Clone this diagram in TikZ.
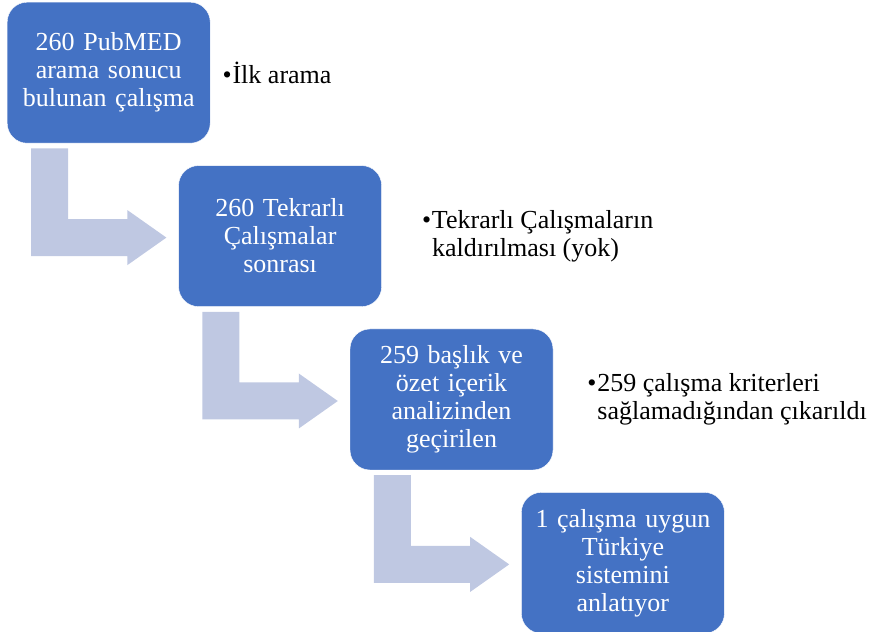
\documentclass[tikz,border=0pt]{standalone}
\usepackage{fontspec}
\setmainfont{Liberation Serif}
\usepackage{tikz}
\usetikzlibrary{calc,positioning}
\definecolor{kutumavi}{RGB}{68,114,196}
\definecolor{okgri}{RGB}{191,200,226}
\tikzset{
    %Define style for boxes
    kutu/.style={
           rectangle,
           rounded corners=20pt,
           fill=kutumavi,
           draw=white, thin,
           minimum width=203pt,
           minimum height=141pt,
           text width=190pt,
           align=center,
           text=white,
           font=\fontsize{26}{28}\selectfont},
    %Define style for side notes
    madde/.style={
           inner sep=0pt,
           align=left,
           font=\fontsize{26}{28}\selectfont},
    % Define arrow style
    okbant/.style={
           fill=okgri}
}
% bullet for the side notes
\newcommand{\isaret}{\makebox[10pt][l]{\textbullet}}
% bent arrow from one box down and into the next
\newcommand{\bentarrow}[2]{%
  \fill[okbant] let \p1=(#1.south west), \p2=(#2.west) in
    (\x1+24pt,\y1-5pt) -- (\x1+61pt,\y1-5pt) -- (\x1+61pt,\y2+17pt)
    -- (\x2-51pt,\y2+17pt) -- (\x2-51pt,\y2+26pt) -- (\x2-12pt,\y2-1.5pt)
    -- (\x2-51pt,\y2-29pt) -- (\x2-51pt,\y2-20pt) -- (\x1+24pt,\y2-20pt) -- cycle;}

\begin{document}
\begin{tikzpicture}[x=1pt,y=1pt,node distance=22pt and -32pt]
\useasboundingbox (0,0) rectangle (876,632);
 %boxes
\node[kutu, anchor=north west](b1) at (7,630){260 PubMED\\ arama sonucu\\ bulunan çalışma};
\node[kutu, below right=of b1](b2){260 Tekrarlı\\ Çalışmalar\\ sonrası};
\node[kutu, below right=of b2](b3){259 başlık ve\\ özet içerik\\ analizinden\\ geçirilen};
\node[kutu, below right=of b3](b4){1 çalışma uygun\\ Türkiye\\ sistemini\\ anlatıyor};
 %notes
\node[madde, right=12pt of b1](n1){\isaret İlk arama};
\node[madde, right=40pt of b2](n2){\isaret Tekrarlı Çalışmaların\\ \hspace*{10pt}kaldırılması (yok)};
\node[madde, right=34pt of b3](n3){\isaret 259 çalışma kriterleri\\ \hspace*{10pt}sağlamadığından çıkarıldı};
 %arrows
\bentarrow{b1}{b2}
\bentarrow{b2}{b3}
\bentarrow{b3}{b4}
\end{tikzpicture}
\end{document}
